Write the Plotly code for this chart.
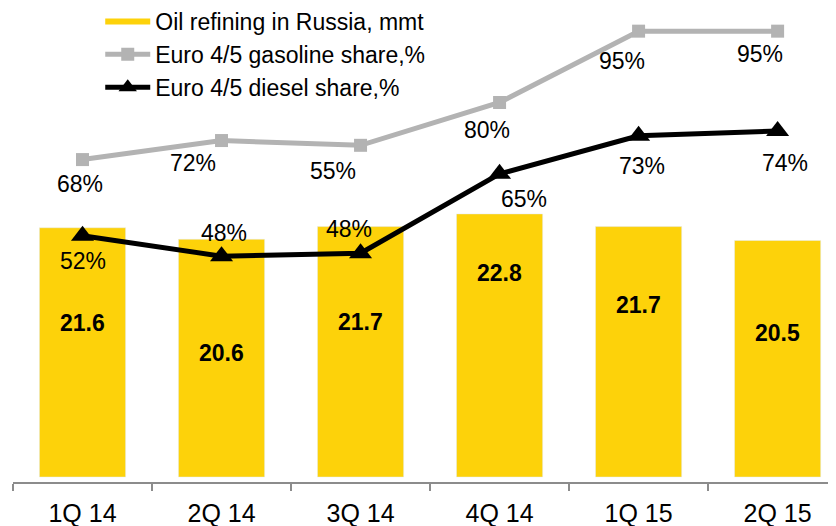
import plotly.graph_objects as go

categories = ["1Q 14", "2Q 14", "3Q 14", "4Q 14", "1Q 15", "2Q 15"]
refining_mmt = [21.6, 20.6, 21.7, 22.8, 21.7, 20.5]
gasoline_share = [68, 72, 71, 80, 95, 95]          # plotted positions
gasoline_labels = ["68%", "72%", "55%", "80%", "95%", "95%"]
diesel_share = [52, 47.7, 48.3, 65, 73, 74]         # plotted positions
diesel_labels = ["52%", "48%", "48%", "65%", "73%", "74%"]

YELLOW = "#FDD20A"
GREY = "#B3B3B3"
FONT = "Liberation Sans, Arial, sans-serif"

# label offsets (px) – styling only
bar_label_shift = [-95, -114, -95, -59, -78, -93]
gas_shift = [(-3, -24), (-29, -22), (-28, -26), (-13, -27), (-17, -30), (-18, -23)]
dsl_shift = [(0, -25), (2, 23), (-12, 24), (24, -25), (3, -30), (7, -32)]

fig = go.Figure()
fig.add_trace(go.Bar(x=categories, y=refining_mmt, marker_color=YELLOW, width=0.62,
                     showlegend=False, name="Oil refining in Russia, mmt"))
# legend entry drawn as a yellow line, like the original
fig.add_trace(go.Scatter(x=categories, y=[None] * len(categories), mode="lines",
                         line=dict(color=YELLOW, width=6), name="Oil refining in Russia, mmt"))
fig.add_trace(go.Scatter(x=categories, y=gasoline_share, yaxis="y2", mode="lines+markers",
                         line=dict(color=GREY, width=5),
                         marker=dict(symbol="square", size=13, color=GREY),
                         name="Euro 4/5 gasoline share,%"))
fig.add_trace(go.Scatter(x=categories, y=diesel_share, yaxis="y2", mode="lines+markers",
                         line=dict(color="black", width=5),
                         marker=dict(symbol="triangle-up", size=20, color="black"),
                         name="Euro 4/5 diesel share,%"))

ann = []
for c, v, s in zip(categories, refining_mmt, bar_label_shift):
    ann.append(dict(x=c, y=v, xref="x", yref="y", text=f"<b>{v:.1f}</b>", showarrow=False,
                    yshift=s, font=dict(size=23, color="black", family=FONT)))
for c, v, t, (dx, dy) in zip(categories, gasoline_share, gasoline_labels, gas_shift):
    ann.append(dict(x=c, y=v, xref="x", yref="y2", text=t, showarrow=False,
                    xshift=dx, yshift=dy, font=dict(size=23, color="black", family=FONT)))
for c, v, t, (dx, dy) in zip(categories, diesel_share, diesel_labels, dsl_shift):
    ann.append(dict(x=c, y=v, xref="x", yref="y2", text=t, showarrow=False,
                    xshift=dx, yshift=dy, font=dict(size=23, color="black", family=FONT)))

fig.update_layout(
    width=828, height=518,
    margin=dict(l=5, r=0, t=0, b=44, autoexpand=False),
    paper_bgcolor="white", plot_bgcolor="white",
    font=dict(family=FONT, color="black"),
    bargap=0.38,
    xaxis=dict(type="category", range=[-0.5, 5.42], showline=True, linecolor="#8C8C8C",
               linewidth=2, ticks="outside", tickson="boundaries", ticklen=7,
               tickcolor="#8C8C8C", tickwidth=2, tickfont=dict(size=25, family=FONT),
               tickangle=0, ticklabelstandoff=8, showgrid=False, zeroline=False,
               automargin=False),
    yaxis=dict(range=[-0.43, 40.64], visible=False, showgrid=False, zeroline=False),
    yaxis2=dict(range=[0.21, 99.87], overlaying="y", side="right", visible=False,
                showgrid=False, zeroline=False),
    legend=dict(x=0.106, y=1.017, xanchor="left", yanchor="top", bgcolor="rgba(0,0,0,0)",
                font=dict(size=23, family=FONT), tracegroupgap=0, itemwidth=45),
    annotations=ann,
)

fig.write_html("out.html")
